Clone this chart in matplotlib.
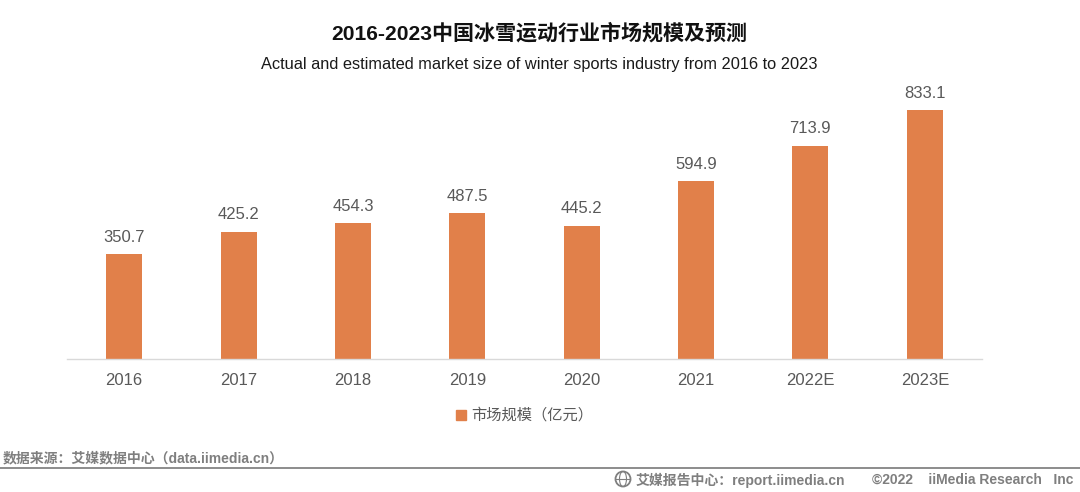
import matplotlib
matplotlib.use("Agg")
import matplotlib.pyplot as plt
from matplotlib.lines import Line2D
from matplotlib.patches import Ellipse, Rectangle

W, H = 1080, 492
FONTS = ["Liberation Sans", "Noto Sans CJK SC"]
plt.rcParams["font.family"] = FONTS

years = ["2016", "2017", "2018", "2019", "2020", "2021", "2022E", "2023E"]
market_size = [350.7, 425.2, 454.3, 487.5, 445.2, 594.9, 713.9, 833.1]

title = "2016-2023中国冰雪运动行业市场规模及预测"
subtitle = "Actual and estimated market size of winter sports industry from 2016 to 2023"
legend_label = "市场规模（亿元）"
source = "数据来源：艾媒数据中心（data.iimedia.cn）"
footer_site = "艾媒报告中心：report.iimedia.cn"
footer_copy = "©2022    iiMedia Research   Inc"

ORANGE = "#e1804a"
TEXT = "#595959"
GREY = "#7f7f7f"


def fx(px):
    return px / W


def fy(px):
    return 1 - px / H


fig = plt.figure(figsize=(W / 100, H / 100), dpi=100)

# plot area spans the baseline, headroom left for the top label
ax = fig.add_axes([fx(67), fy(359), (982 - 67) / W, (359 - 100) / H])
ax.bar(years, market_size, width=0.315, color=ORANGE, zorder=2)
ax.set_xlim(-0.5, 7.5)
ax.set_ylim(0, 833.1 * 259 / 249)
ax.set_yticks([])
for side in ["top", "left", "right"]:
    ax.spines[side].set_visible(False)
ax.spines["bottom"].set_color("#d9d9d9")
ax.spines["bottom"].set_linewidth(1)
ax.tick_params(axis="x", length=0, pad=10, labelsize=12, labelcolor=TEXT)
ax.patch.set_alpha(0)

for i, v in enumerate(market_size):
    ax.annotate(f"{v:.1f}", (i, v), xytext=(0, 6.8), textcoords="offset points",
                ha="center", va="bottom", fontsize=12, color=TEXT, clip_on=False)

fig.text(fx(539), fy(33), title, ha="center", va="center", fontsize=15.15,
         fontweight="bold", color="#111111")
fig.text(fx(539), fy(64), subtitle, ha="center", va="center", fontsize=11.8,
         color="#1a1a1a")

# legend swatch and label
fig.add_artist(Rectangle((fx(456), fy(420)), 10 / W, 10 / H, color=ORANGE,
                         transform=fig.transFigure))
fig.text(fx(471), fy(415), legend_label, ha="left", va="center", fontsize=11,
         color=TEXT)

fig.text(fx(3), fy(458), source, ha="left", va="center", fontsize=10,
         fontweight="bold", color=GREY)

# footer rule, globe icon and credits
fig.add_artist(Line2D([0, 1], [fy(468), fy(468)], color="#8c8c8c", lw=1.4,
                      transform=fig.transFigure))
fig.add_artist(Ellipse((fx(623), fy(479)), 15 / W, 15 / H, fill=False, ec=GREY,
                       lw=1.3, transform=fig.transFigure))
fig.add_artist(Ellipse((fx(623), fy(479)), 7 / W, 15 / H, fill=False, ec=GREY,
                       lw=0.8, transform=fig.transFigure))
fig.add_artist(Line2D([fx(616), fx(630)], [fy(479), fy(479)], color=GREY, lw=0.8,
                      transform=fig.transFigure))
fig.text(fx(636), fy(480), footer_site, ha="left", va="center", fontsize=10,
         fontweight="bold", color=GREY)
fig.text(fx(1073), fy(480), footer_copy, ha="right", va="center", fontsize=10,
         fontweight="bold", color=GREY)

fig.savefig("out.png", dpi=100)
